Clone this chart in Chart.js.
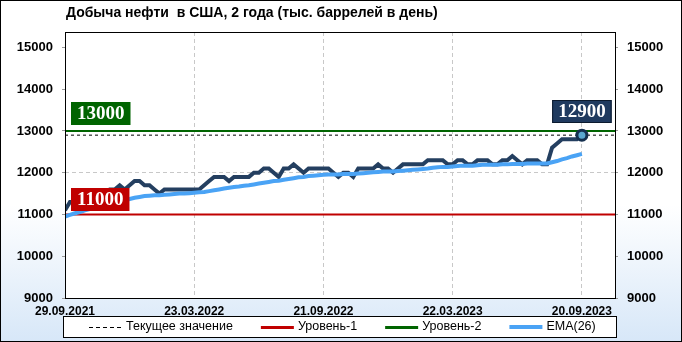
<!DOCTYPE html>
<html lang="ru">
<head>
    <meta charset="UTF-8">
    <title>Добыча нефти в США</title>
    <style>
        body { margin: 0; padding: 0; background: #fff; }
        #wrap { width: 682px; height: 342px; position: relative; }
    </style>
    <script src="https://cdn.jsdelivr.net/npm/chart.js"></script>
</head>
<body>
<div id="wrap"><canvas id="oilChart" width="682" height="342"></canvas></div>
<script>
    // Подписи оси X (индекс недели -> дата)
    const TICK_INDEX = [0, 26, 52, 78, 104];
    const TICK_DATES = ['29.09.2021', '23.03.2022', '21.09.2022', '22.03.2023', '20.09.2023'];
    const Y_TICKS = [9000, 10000, 11000, 12000, 13000, 14000, 15000];

    // Добыча, тыс. баррелей в день (понедельно)
    const PRODUCTION = [
        11100, 11300, 11300, 11400, 11500, 11500, 11500, 11500, 11500, 11600,
        11600, 11700, 11600, 11700, 11800, 11800, 11700, 11700, 11600, 11500,
        11600, 11600, 11600, 11600, 11600, 11600, 11600, 11600, 11700, 11800,
        11900, 11900, 11900, 11800, 11900, 11900, 11900, 11900, 12000, 12000,
        12100, 12100, 12000, 11900, 12100, 12100, 12200, 12100, 12000, 12100,
        12100, 12100, 12100, 12100, 12000, 11900, 12000, 12000, 11900, 12100,
        12100, 12100, 12100, 12200, 12100, 12100, 12000, 12100, 12200, 12200,
        12200, 12200, 12200, 12300, 12300, 12300, 12300, 12200, 12200, 12300,
        12300, 12200, 12200, 12300, 12300, 12300, 12200, 12200, 12300, 12300,
        12400, 12300, 12200, 12300, 12300, 12300, 12200, 12200, 12600, 12700,
        12800, 12800, 12800, 12800, 12900
    ];

    // EMA(26)
    const EMA26 = [
        10950, 10990, 11030, 11060, 11100, 11130, 11160, 11190, 11220, 11250,
        11280, 11310, 11340, 11370, 11400, 11420, 11440, 11450, 11460, 11460,
        11470, 11480, 11490, 11500, 11500, 11510, 11520, 11530, 11540, 11560,
        11580, 11600, 11620, 11640, 11660, 11670, 11690, 11700, 11720, 11740,
        11760, 11780, 11800, 11810, 11830, 11850, 11870, 11890, 11900, 11920,
        11930, 11940, 11950, 11960, 11960, 11960, 11970, 11970, 11970, 11980,
        11990, 12000, 12010, 12020, 12030, 12030, 12030, 12040, 12050, 12060,
        12070, 12080, 12090, 12100, 12120, 12130, 12140, 12140, 12150, 12160,
        12170, 12170, 12170, 12180, 12190, 12190, 12190, 12190, 12200, 12200,
        12210, 12210, 12210, 12220, 12220, 12220, 12220, 12220, 12250, 12280,
        12320, 12350, 12390, 12420, 12450
    ];

    const LEVEL_1 = 11000;
    const LEVEL_2 = 13000;
    const CURRENT = PRODUCTION[PRODUCTION.length - 1];
    const X_MAX = 110.66;
    const Y_MIN = 9000;
    const Y_MAX = 15370;

    const C_MAIN = '#243f60';
    const C_EMA = '#4aa3f5';
    const C_RED = '#c00000';
    const C_GREEN = '#006400';

    const toPoints = arr => arr.map((v, i) => ({ x: i, y: v }));
    const flat = v => [{ x: 0, y: v }, { x: X_MAX, y: v }];
    const last = PRODUCTION.length - 1;

    const legendItems = [
        { text: 'Текущее значение', color: '#000', width: 1, dash: [4, 3] },
        { text: 'Уровень-1', color: C_RED, width: 3, dash: [] },
        { text: 'Уровень-2', color: C_GREEN, width: 3, dash: [] },
        { text: 'EMA(26)', color: C_EMA, width: 4, dash: [] }
    ];

    // фон, рамки, заголовок, плашки и легенда
    const decor = {
        id: 'decor',
        beforeDraw(chart) {
            const { ctx, chartArea: a, width, height } = chart;
            ctx.save();
            const g = ctx.createLinearGradient(0, 0, 0, height);
            g.addColorStop(0, '#ffffff');
            g.addColorStop(0.6, '#ffffff');
            g.addColorStop(1, '#d7e7f8');
            ctx.fillStyle = g;
            ctx.fillRect(0, 0, width, height);
            ctx.fillStyle = '#fff';
            ctx.fillRect(a.left, a.top, a.right - a.left, a.bottom - a.top);
            ctx.fillStyle = '#000';
            ctx.font = 'bold 14px "Liberation Sans"';
            ctx.textBaseline = 'middle';
            ctx.fillText('Добыча нефти  в США, 2 года (тыс. баррелей в день)', 66, 13);
            ctx.restore();
        },
        afterDatasetsDraw(chart) {
            const { ctx, chartArea: a } = chart;
            const y = chart.scales.y, x = chart.scales.x;
            const tag = (txt, bg, cx, bottom, center) => {
                ctx.font = 'bold 19px "Liberation Serif"';
                const w = ctx.measureText(txt).width + 12;
                const left = center ? cx - w / 2 : cx;
                ctx.fillStyle = bg;
                ctx.fillRect(left, bottom - 23, w, 23);
                if (center) {
                    ctx.strokeStyle = '#0b1a2e';
                    ctx.lineWidth = 1;
                    ctx.strokeRect(left + 0.5, bottom - 22.5, w - 1, 22);
                }
                ctx.fillStyle = '#fff';
                ctx.textBaseline = 'middle';
                ctx.textAlign = 'left';
                ctx.fillText(txt, left + 6, bottom - 11);
            };
            ctx.save();
            tag(String(LEVEL_2), C_GREEN, a.left + 6, Math.round(y.getPixelForValue(LEVEL_2)) - 6, false);
            tag(String(LEVEL_1), C_RED, a.left + 6, Math.round(y.getPixelForValue(LEVEL_1)) - 3, false);
            tag(String(CURRENT), '#1f3a5f', x.getPixelForValue(last), Math.round(y.getPixelForValue(CURRENT)) - 12, true);
            ctx.restore();
        },
        afterDraw(chart) {
            const { ctx, chartArea: a, width, height } = chart;
            ctx.save();
            ctx.strokeStyle = '#000';
            ctx.lineWidth = 1;
            ctx.strokeRect(Math.round(a.left) + 0.5, Math.round(a.top) + 0.5,
                Math.round(a.right - a.left), Math.round(a.bottom - a.top));
            ctx.strokeRect(0.5, 0.5, width - 1, height - 1);

            // легенда
            const bx = 63, by = 316, bw = 553, bh = 21;
            ctx.fillStyle = '#fff';
            ctx.fillRect(bx, by, bw, bh);
            ctx.strokeRect(bx + 0.5, by + 0.5, bw, bh);
            ctx.font = '12.5px "Liberation Sans"';
            ctx.textBaseline = 'middle';
            const lineW = 33, gap = 4, pad = 28;
            const widths = legendItems.map(it => lineW + gap + ctx.measureText(it.text).width);
            const total = widths.reduce((s, w) => s + w, 0) + pad * (legendItems.length - 1);
            let lx = Math.round(342 - total / 2);
            const ly = by + bh / 2 + 0.5;
            legendItems.forEach((it, i) => {
                ctx.strokeStyle = it.color;
                ctx.lineWidth = it.width;
                ctx.setLineDash(it.dash);
                ctx.beginPath();
                ctx.moveTo(lx, Math.round(ly) + (it.width % 2 ? 0.5 : 0));
                ctx.lineTo(lx + lineW, Math.round(ly) + (it.width % 2 ? 0.5 : 0));
                ctx.stroke();
                ctx.setLineDash([]);
                ctx.fillStyle = '#000';
                ctx.fillText(it.text, lx + lineW + gap, ly);
                lx += widths[i] + pad;
            });
            ctx.restore();
        }
    };

    const yTickFont = { family: 'Liberation Sans', size: 13, weight: 'bold' };

    const ctx = document.getElementById('oilChart').getContext('2d');
    new Chart(ctx, {
        type: 'line',
        data: {
            datasets: [
                {
                    label: 'EMA(26)',
                    data: toPoints(EMA26),
                    borderColor: C_EMA,
                    borderWidth: 4,
                    pointRadius: 0,
                    order: 0
                },
                {
                    label: 'Добыча',
                    data: toPoints(PRODUCTION),
                    borderColor: C_MAIN,
                    borderWidth: 4,
                    pointRadius: c => (c.dataIndex === last ? 5 : 0),
                    pointBackgroundColor: '#5aa8d0',
                    pointBorderColor: '#15304f',
                    pointBorderWidth: 3,
                    order: 1
                },
                {
                    label: 'Текущее значение',
                    data: flat(CURRENT),
                    borderColor: '#000',
                    borderWidth: 1,
                    borderDash: [3, 3],
                    pointRadius: 0,
                    order: 2
                },
                {
                    label: 'Уровень-1',
                    data: flat(LEVEL_1),
                    borderColor: C_RED,
                    borderWidth: 2,
                    pointRadius: 0,
                    order: 2
                },
                {
                    label: 'Уровень-2',
                    data: flat(LEVEL_2),
                    borderColor: C_GREEN,
                    borderWidth: 2,
                    pointRadius: 0,
                    order: 2
                }
            ]
        },
        options: {
            responsive: false,
            animation: false,
            layout: { padding: { top: 32, bottom: 26, left: 0, right: 0 } },
            plugins: {
                legend: { display: false },
                title: { display: false },
                tooltip: { enabled: false }
            },
            elements: { line: { tension: 0, borderJoinStyle: 'miter' } },
            scales: {
                x: {
                    type: 'linear',
                    min: 0,
                    max: X_MAX,
                    afterBuildTicks: s => { s.ticks = TICK_INDEX.map(v => ({ value: v })); },
                    afterFit: s => { s.height = 18; },
                    ticks: {
                        autoSkip: false,
                        maxRotation: 0,
                        padding: 6,
                        color: '#000',
                        font: { family: 'Liberation Sans', size: 12, weight: 'bold' },
                        callback: v => TICK_DATES[TICK_INDEX.indexOf(v)]
                    },
                    grid: {
                        drawTicks: false,
                        color: c => (c.tick && c.tick.value === 0 ? 'rgba(0,0,0,0)' : '#c8c8c8')
                    },
                    border: { display: false, dash: [4, 3] }
                },
                y: {
                    position: 'left',
                    min: Y_MIN,
                    max: Y_MAX,
                    afterBuildTicks: s => { s.ticks = Y_TICKS.map(v => ({ value: v })); },
                    afterFit: s => { s.width = 65; },
                    ticks: {
                        padding: 9,
                        color: '#000',
                        font: yTickFont,
                        callback: v => String(v)
                    },
                    grid: {
                        tickLength: 3,
                        tickColor: '#999',
                        color: c => (c.tick && c.tick.value === 12000 ? '#c8c8c8' : 'rgba(0,0,0,0)')
                    },
                    border: { display: false, dash: [4, 3] }
                },
                y2: {
                    position: 'right',
                    min: Y_MIN,
                    max: Y_MAX,
                    afterBuildTicks: s => { s.ticks = Y_TICKS.map(v => ({ value: v })); },
                    afterFit: s => { s.width = 67; },
                    ticks: {
                        padding: 9,
                        color: '#000',
                        font: yTickFont,
                        callback: v => String(v)
                    },
                    grid: {
                        drawOnChartArea: false,
                        tickLength: 3,
                        tickColor: '#999'
                    },
                    border: { display: false }
                }
            }
        },
        plugins: [decor]
    });
</script>
</body>
</html>
